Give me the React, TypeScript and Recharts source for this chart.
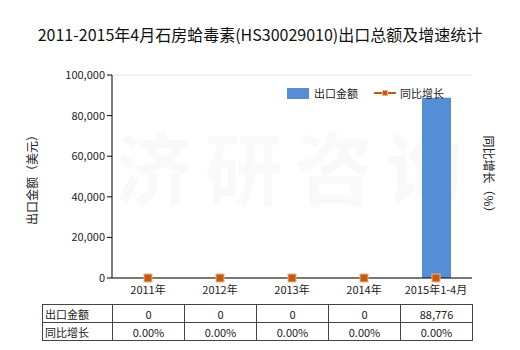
import React from "react";
import { ComposedChart, Bar, Line, XAxis, YAxis, CartesianGrid, Customized } from "recharts";

const categories = ["2011年", "2012年", "2013年", "2014年", "2015年1-4月"];
const exportValues = [0, 0, 0, 0, 88776];
const growthValues = [0, 0, 0, 0, 0];
const exportLabels = ["0", "0", "0", "0", "88,776"];
const growthLabels = ["0.00%", "0.00%", "0.00%", "0.00%", "0.00%"];
const leftTicks = [0, 20000, 40000, 60000, 80000, 100000];

const data = categories.map((c, i) => ({ name: c, exp: exportValues[i], yoy: growthValues[i] }));

const FONT = '"Noto Sans CJK SC", "Noto Sans", sans-serif';

const Watermark = () => (
  <text x={295} y={178} textAnchor="middle" dominantBaseline="middle" fontSize={78} fontWeight="bold" fill="#000" fillOpacity={0.022} fontFamily={FONT} letterSpacing={12}>
    济研咨询
  </text>
);

const Square = (props: any) => {
  const { cx, cy } = props;
  if (cx == null || cy == null) return null;
  return <rect x={cx - 4} y={cy - 4} width={8} height={8} fill="#c55a11" stroke="#f4b183" strokeWidth={1} />;
};

const cellStyle: React.CSSProperties = {
  border: "1px solid #444",
  padding: 0,
  height: 17,
  fontSize: 11,
  textAlign: "center",
  color: "#222",
};

export default function App() {
  return (
    <div style={{ position: "absolute", left: 0, top: 0, width: 520, height: 350, background: "#fff", fontFamily: FONT }}>
      <div style={{ position: "absolute", left: 0, top: 22, width: 520, textAlign: "center", fontSize: 16, color: "#111" }}>
        2011-2015年4月石房蛤毒素(HS30029010)出口总额及增速统计
      </div>
      <ComposedChart width={520} height={350} data={data} margin={{ top: 75, right: 48, bottom: 52, left: 0 }} style={{ position: "absolute", left: 0, top: 0 }}>
        <Customized component={Watermark} />
        <CartesianGrid vertical={false} stroke="#e3e3e3" />
        <XAxis dataKey="name" axisLine={{ stroke: "#000" }} tickLine={false} tick={{ fontSize: 11, fill: "#222", fontFamily: FONT }} height={20} interval={0} />
        <YAxis yAxisId="left" width={112} domain={[0, 100000]} ticks={leftTicks} tickFormatter={(v: number) => v.toLocaleString("en-US")} axisLine={{ stroke: "#000" }} tickLine={{ stroke: "#000" }} tickSize={5} tick={{ fontSize: 11, fill: "#222", fontFamily: FONT }} />
        <YAxis yAxisId="right" orientation="right" width={0} domain={[0, 100]} tick={false} tickLine={false} axisLine={{ stroke: "#000" }} />
        <Bar yAxisId="left" dataKey="exp" fill="#558ed5" barSize={29} isAnimationActive={false} />
        <Line yAxisId="right" dataKey="yoy" stroke="transparent" strokeWidth={2} dot={<Square />} activeDot={false} isAnimationActive={false} />
      </ComposedChart>
      <div style={{ position: "absolute", left: 31, top: 177, transform: "translate(-50%, -50%) rotate(-90deg)", fontSize: 12, color: "#222", whiteSpace: "nowrap" }}>
        出口金额（美元）
      </div>
      <div style={{ position: "absolute", left: 489, top: 177, transform: "translate(-50%, -50%) rotate(90deg)", fontSize: 12, color: "#222", whiteSpace: "nowrap" }}>
        同比增长（%）
      </div>
      <div style={{ position: "absolute", left: 287, top: 86, height: 14, display: "flex", alignItems: "center", fontSize: 11, color: "#222" }}>
        <span style={{ display: "inline-block", width: 22, height: 11, background: "#558ed5", marginRight: 5 }} />
        <span style={{ marginRight: 16 }}>出口金额</span>
        <span style={{ position: "relative", display: "inline-block", width: 22, height: 11, marginRight: 4 }}>
          <span style={{ position: "absolute", left: 0, top: 4, width: 22, height: 2, background: "#c55a11" }} />
          <span style={{ position: "absolute", left: 8, top: 2, width: 6, height: 6, background: "#c55a11", boxSizing: "border-box", border: "1px solid #f4b183" }} />
        </span>
        <span>同比增长</span>
      </div>
      <table style={{ position: "absolute", left: 42, top: 304, borderCollapse: "collapse", tableLayout: "fixed", width: 430, fontFamily: FONT }}>
        <colgroup>
          <col style={{ width: 70 }} />
          {categories.map((c) => <col key={c} style={{ width: 72 }} />)}
        </colgroup>
        <tbody>
          <tr>
            <td style={{ ...cellStyle, textAlign: "left", paddingLeft: 2 }}>出口金额</td>
            {exportLabels.map((v, i) => <td key={i} style={cellStyle}>{v}</td>)}
          </tr>
          <tr>
            <td style={{ ...cellStyle, textAlign: "left", paddingLeft: 2 }}>同比增长</td>
            {growthLabels.map((v, i) => <td key={i} style={cellStyle}>{v}</td>)}
          </tr>
        </tbody>
      </table>
    </div>
  );
}
